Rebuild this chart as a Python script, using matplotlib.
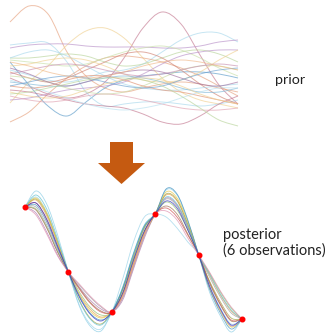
import numpy as np
import matplotlib.pyplot as plt
from matplotlib.path import Path
from matplotlib.patches import PathPatch, Polygon

# coordinates are in picture pixels (y grows downward)

# prior samples, read at fixed x positions
prior_x = [10, 29, 48, 67, 86, 105, 124, 143, 162, 181, 200, 219, 238]
prior_curves = [
    ("#e6a07c", [22, 6, 14, 52, 76, 88, 92, 88, 84, 82, 84, 88, 92]),
    ("#c47890", [78, 86, 94, 98, 94, 82, 58, 28, 12, 24, 55, 85, 104]),
    ("#5a9ac8", [62, 85, 106, 116, 102, 88, 80, 76, 74, 72, 72, 74, 78]),
    ("#f0d090", [103, 82, 66, 45, 31, 28, 38, 58, 78, 92, 100, 104, 108]),
    ("#a8d8ec", [70, 75, 80, 82, 78, 72, 70, 64, 52, 40, 33, 33, 42]),
    ("#a8d8ec", [45, 43, 43, 62, 92, 106, 104, 102, 102, 104, 106, 104, 100]),
    ("#b890c8", [48, 45, 44, 44, 46, 47, 47, 47, 48, 48, 46, 42, 40]),
    ("#e6a07c", [122, 112, 94, 78, 66, 58, 56, 58, 62, 68, 76, 86, 96]),
    ("#c47890", [90, 92, 96, 100, 104, 106, 108, 114, 122, 124, 116, 104, 96]),
    ("#b8d49a", [58, 58, 56, 54, 56, 62, 66, 64, 58, 52, 50, 54, 62]),
    ("#c8e0a8", [60, 62, 64, 66, 64, 58, 52, 48, 46, 50, 58, 68, 76]),
    ("#d08070", [72, 78, 82, 78, 70, 62, 54, 52, 58, 70, 84, 96, 104]),
    ("#b890c8", [100, 98, 94, 90, 88, 86, 82, 74, 64, 56, 52, 50, 50]),
    ("#a8d8ec", [58, 52, 50, 56, 66, 76, 84, 88, 90, 90, 88, 86, 84]),
    ("#f0d090", [66, 64, 60, 58, 60, 66, 74, 80, 82, 80, 72, 60, 50]),
    ("#e0a0b0", [96, 100, 102, 100, 96, 94, 96, 100, 104, 108, 110, 110, 108]),
    ("#80b8d8", [82, 84, 86, 86, 82, 78, 76, 78, 82, 88, 92, 92, 88]),
    ("#c8d8a0", [76, 78, 82, 88, 92, 94, 92, 86, 78, 70, 66, 66, 70]),
    ("#e09070", [86, 88, 86, 80, 76, 76, 80, 86, 90, 92, 96, 100, 104]),
    ("#a070a0", [68, 74, 82, 86, 82, 76, 72, 70, 72, 78, 84, 86, 82]),
    ("#b8e0f0", [80, 86, 92, 98, 104, 108, 110, 108, 104, 98, 92, 88, 88]),
    ("#6aa0d0", [86, 82, 78, 76, 78, 82, 86, 88, 86, 80, 74, 70, 68]),
    ("#f0d090", [92, 96, 98, 96, 90, 84, 80, 78, 80, 86, 94, 100, 104]),
    ("#b8d49a", [94, 92, 88, 84, 80, 78, 78, 80, 86, 96, 108, 120, 126]),
    ("#c890b0", [74, 70, 66, 64, 66, 70, 74, 76, 74, 70, 66, 64, 66]),
    ("#f0b888", [62, 66, 72, 76, 78, 76, 72, 66, 62, 60, 62, 66, 70]),
]

# posterior samples
post_x = [25, 35.9, 46.7, 57.6, 68.4, 79.3, 90.1, 101, 111.8, 122.7, 133.5,
          144.4, 155.2, 166.1, 177, 187.8, 198.7, 209.5, 220.4, 231.2, 242]
post_curves = [
    ("#8ecfe6", [207, 191, 204, 235, 272, 306, 326, 331, 312, 290, 258, 228, 214, 190, 195, 221, 255, 292, 316, 332, 319]),
    ("#9dd5ea", [207, 197, 212, 241, 272, 305, 324, 329, 312, 279, 242, 217, 214, 217, 228, 242, 255, 285, 308, 324, 319]),
    ("#b07ab0", [207, 213, 232, 255, 272, 287, 300, 309, 312, 300, 269, 238, 214, 198, 205, 227, 255, 287, 310, 326, 319]),
    ("#e8a050", [207, 200, 216, 244, 272, 294, 309, 317, 312, 297, 266, 235, 214, 195, 201, 225, 255, 275, 295, 311, 319]),
    ("#90c070", [207, 209, 227, 252, 272, 292, 307, 315, 312, 290, 258, 228, 214, 202, 210, 230, 255, 273, 292, 308, 319]),
    ("#d05050", [207, 203, 220, 247, 272, 289, 303, 312, 312, 295, 264, 233, 214, 208, 217, 235, 255, 282, 304, 320, 319]),
    ("#a0a040", [207, 199, 214, 242, 272, 300, 318, 324, 312, 289, 256, 227, 214, 194, 200, 224, 255, 281, 302, 318, 319]),
    ("#a0a0a0", [207, 207, 225, 250, 272, 285, 297, 307, 312, 298, 267, 236, 214, 199, 206, 228, 255, 277, 297, 313, 319]),
    ("#e8c840", [207, 198, 213, 242, 272, 295, 311, 318, 312, 295, 264, 233, 214, 192, 198, 222, 255, 288, 311, 327, 319]),
    ("#a07050", [207, 210, 228, 252, 272, 288, 302, 311, 312, 293, 261, 231, 214, 206, 214, 234, 255, 283, 305, 321, 319]),
    ("#60c0d0", [207, 195, 209, 239, 272, 301, 319, 325, 312, 287, 253, 225, 214, 197, 204, 226, 255, 274, 294, 310, 319]),
    ("#e090b0", [207, 215, 234, 256, 272, 284, 296, 306, 312, 297, 266, 235, 214, 211, 220, 238, 255, 272, 291, 307, 319]),
    ("#4090c0", [207, 205, 222, 248, 272, 296, 313, 320, 312, 288, 254, 226, 214, 189, 194, 220, 255, 289, 313, 329, 319]),
    ("#3030c0", [207, 203, 219, 246, 272, 297, 314, 321, 312, 293, 260, 231, 214, 201, 208, 230, 255, 286, 309, 325, 319]),
]

obs_x = [25, 68.4, 111.8, 155.2, 198.7, 242]
obs_y = [207, 272, 312, 214, 255, 319]

arrow_color = "#c55a11"


def smooth_path(xs, ys):
    # Catmull-Rom through the read points, drawn as cubic Bezier segments
    p = np.column_stack([xs, ys]).astype(float)
    p_ext = np.vstack([p[0], p, p[-1]])
    verts = [p[0]]
    codes = [Path.MOVETO]
    for i in range(1, len(p_ext) - 2):
        p0, p1, p2, p3 = p_ext[i - 1], p_ext[i], p_ext[i + 1], p_ext[i + 2]
        verts += [p1 + (p2 - p0) / 6, p2 - (p3 - p1) / 6, p2]
        codes += [Path.CURVE4] * 3
    return Path(verts, codes)


fig = plt.figure(figsize=(3.28, 3.34), dpi=100)
ax = fig.add_axes([0, 0, 1, 1])
ax.set_xlim(0, 328)
ax.set_ylim(334, 0)
ax.axis("off")

for col, ys in prior_curves:
    ax.add_patch(PathPatch(smooth_path(prior_x, ys), fill=False,
                           edgecolor=col, lw=0.7, alpha=0.65))

for col, ys in post_curves:
    ax.add_patch(PathPatch(smooth_path(post_x, ys), fill=False,
                           edgecolor=col, lw=0.6, alpha=0.75))

ax.plot(obs_x, obs_y, "o", color="red", ms=3.3, zorder=5)

# block arrow
arrow = Polygon([(110, 142), (133, 142), (133, 163), (145, 163),
                 (121.5, 184), (98, 163), (110, 163)],
                closed=True, facecolor=arrow_color, edgecolor="none")
ax.add_patch(arrow)

ax.text(275, 80, "prior", fontsize=10.3, family="Lato", va="center",
        ha="left", color="#222222")
ax.text(223, 243, "posterior\n(6 observations)", fontsize=10.5, family="Lato",
        va="center", ha="left", color="#222222", linespacing=1.1)

fig.savefig("out.png", dpi=100)
